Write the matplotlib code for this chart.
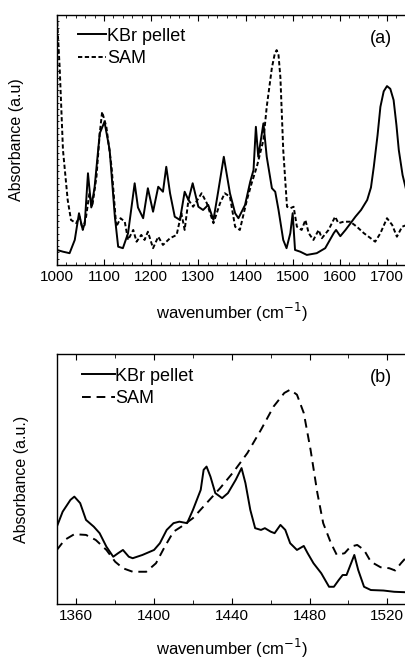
import matplotlib.pyplot as plt
import numpy as np
from matplotlib.ticker import MultipleLocator, NullFormatter

plt.rcParams["font.family"] = ["Liberation Sans", "DejaVu Sans"]

# panel (a): full range spectra, absorbance in arbitrary units (0-100)
kbr_a_x = [1000, 1013, 1027, 1038, 1047, 1054, 1059, 1066, 1073, 1080, 1091, 1101,
           1112, 1123, 1130, 1140, 1151, 1165, 1172, 1183, 1193, 1204, 1215, 1225,
           1232, 1240, 1250, 1261, 1271, 1279, 1288, 1300, 1310, 1321, 1332, 1342,
           1354, 1367, 1378, 1385, 1399, 1410, 1417, 1422, 1427, 1438, 1445, 1456,
           1463, 1470, 1480, 1487, 1495, 1500, 1505, 1516, 1530, 1551, 1569, 1587,
           1592, 1601, 1612, 1622, 1633, 1645, 1658, 1666, 1672, 1680, 1686, 1693,
           1700, 1707, 1714, 1720, 1725, 1733, 1742]
kbr_a_y = [6, 5.3, 4.7, 10, 20.7, 14.7, 16, 36.7, 23, 31, 52.7, 57.3,
           46, 19.3, 7.3, 6.7, 12.7, 32.7, 23, 18.7, 30.7, 21.3, 31.3, 29.3,
           39.3, 28.7, 19.3, 18, 29.3, 26, 32.7, 23.3, 22, 24, 18, 29.3,
           43.3, 28.7, 20.7, 18.7, 24, 33.3, 38, 55.3, 43.3, 56.7, 43.3, 30.7,
           29.3, 22, 10, 6.7, 12.7, 20.7, 6, 5.3, 4, 4.7, 6.7, 12.7,
           14, 11.5, 14, 16.5, 19.3, 22, 26, 31, 39.3, 52, 63.3, 69.5,
           71.6, 70.5, 66, 56, 46, 36, 29]

sam_a_x = [1000, 1006, 1013, 1023, 1030, 1041, 1048, 1055, 1062, 1069, 1075, 1084,
           1091, 1096, 1105, 1116, 1126, 1135, 1144, 1151, 1162, 1169, 1179, 1186,
           1193, 1204, 1215, 1225, 1240, 1254, 1264, 1271, 1279, 1289, 1307, 1318,
           1332, 1346, 1356, 1367, 1378, 1388, 1403, 1413, 1424, 1431, 1438, 1445,
           1456, 1462, 1466, 1470, 1474, 1480, 1488, 1495, 1502, 1509, 1519, 1527,
           1534, 1544, 1555, 1562, 1576, 1590, 1597, 1608, 1622, 1636, 1651, 1661,
           1675, 1686, 1700, 1711, 1721, 1732, 1742]
sam_a_y = [100, 79, 46, 26, 18, 16.7, 19.3, 14, 19.3, 28.7, 23.3, 35.3,
           52.7, 61.3, 55.3, 39.3, 15.3, 18.7, 17.3, 10, 14, 9.3, 12, 10,
           13.3, 6.7, 11.3, 8, 10.7, 12, 20.7, 14, 26, 23.3, 28.7, 24.7,
           16.7, 24.7, 28.7, 27.3, 15.3, 14, 26, 32.7, 39.3, 44.7, 50, 63.3,
           79, 84.5, 86, 84, 75, 46, 23.3, 22.7, 23.3, 15.3, 14, 18,
           12.7, 10, 14, 10.7, 14, 19.3, 16.7, 17.3, 17.3, 15.3, 12.7, 11.3,
           9.3, 12.7, 18.7, 16, 11.3, 15.3, 16]

# panel (b): zoom on 1350-1530 cm-1
kbr_b_x = [1350, 1353, 1357, 1359, 1362, 1365, 1369, 1372, 1375.5, 1379, 1381.5, 1384,
           1387, 1389, 1394, 1400, 1403, 1406.5, 1410, 1413, 1417, 1420, 1424, 1425.5,
           1427, 1429, 1431.5, 1435, 1438, 1442, 1445, 1447, 1449.5, 1452, 1455, 1457,
           1460, 1462, 1465, 1467.5, 1470, 1473.5, 1477, 1479, 1482, 1486, 1490, 1492.5,
           1495, 1497, 1499, 1503, 1505, 1508, 1511.5, 1518, 1523.5, 1530]
kbr_b_y = [31, 37, 41.7, 43, 40.4, 33.7, 31, 28.4, 23, 19, 20.4, 21.7,
           19, 18.4, 19.7, 21.7, 24.4, 29.7, 32.4, 33, 32.4, 37.7, 45.7, 53.7,
           55, 51, 44.4, 42.4, 44.4, 49.7, 54.4, 48.4, 37.7, 30.4, 29.7, 30.4,
           29, 28.4, 31.7, 29.7, 24.4, 21.7, 23.3, 20.4, 16.4, 12.4, 7, 7,
           9.7, 11.7, 11.7, 19.7, 13.7, 7, 5.7, 5.5, 5, 4.8]

sam_b_x = [1350, 1354, 1359, 1365, 1370, 1375.5, 1380, 1384, 1389, 1396, 1401, 1405.5,
           1410, 1414, 1420, 1427, 1434, 1441, 1448, 1455, 1461.5, 1467, 1470, 1473.5,
           1477, 1480.5, 1484, 1487, 1491, 1494, 1498, 1501, 1504.5, 1508, 1511.5, 1516.5,
           1521, 1524, 1527, 1530]
sam_b_y = [21.7, 25.7, 28, 27.7, 25.7, 21.7, 17, 14.4, 13, 13, 16.4, 23,
           29, 31, 34.4, 40.4, 46.4, 53, 60.4, 69.7, 79, 84.4, 85.7, 83.7,
           76.4, 61.7, 44.4, 32.4, 24.4, 19.7, 20.4, 23, 23.7, 21.7, 17, 14.8,
           14.4, 13.5, 16.4, 19]

fig = plt.figure(figsize=(4.06, 6.59), dpi=100)
ax1 = fig.add_axes([0.140, 0.598, 0.862, 0.379])
ax2 = fig.add_axes([0.140, 0.083, 0.862, 0.380])

ax1.plot(kbr_a_x, kbr_a_y, color='black', lw=1.4, label='KBr pellet')
ax1.plot(sam_a_x, sam_a_y, color='black', lw=1.4, dashes=(2.2, 1.3), label='SAM')
ax1.set_xlim(1000, 1742)
ax1.set_ylim(0, 100)
ax1.xaxis.set_major_locator(MultipleLocator(100))
ax1.xaxis.set_minor_locator(MultipleLocator(20))
ax1.yaxis.set_minor_locator(MultipleLocator(2.5))
ax1.set_yticks([])
ax1.yaxis.set_minor_formatter(NullFormatter())
ax1.tick_params(which='both', direction='in', top=True, left=True, labelsize=11)
ax1.tick_params(which='major', length=4)
ax1.tick_params(which='minor', length=2)
ax1.tick_params(axis='y', which='minor', length=1.5)
ax1.set_xlabel('wavenumber (cm$^{-1}$)', fontsize=12, labelpad=12)
ax1.set_ylabel('Absorbance (a.u)', fontsize=11.5, labelpad=20)
ax1.legend(loc='upper left', frameon=False, fontsize=13, handlelength=1.55,
           handletextpad=0.05, labelspacing=0.3, borderaxespad=0, borderpad=0,
           bbox_to_anchor=(0.06, 0.95))
ax1.text(0.925, 0.908, '(a)', transform=ax1.transAxes, ha='center', va='center',
         fontsize=13)

ax2.plot(kbr_b_x, kbr_b_y, color='black', lw=1.4, label='KBr pellet')
ax2.plot(sam_b_x, sam_b_y, color='black', lw=1.4, dashes=(4.5, 3), label='SAM')
ax2.set_xlim(1350, 1530)
ax2.set_ylim(0, 100)
ax2.xaxis.set_major_locator(MultipleLocator(40))
ax2.xaxis.set_minor_locator(MultipleLocator(20))
ax2.set_yticks([])
ax2.tick_params(which='both', direction='in', top=True, labelsize=11)
ax2.tick_params(which='major', length=4)
ax2.tick_params(which='minor', length=3)
ax2.set_xlabel('wavenumber (cm$^{-1}$)', fontsize=12, labelpad=10)
ax2.set_ylabel('Absorbance (a.u.)', fontsize=11.5, labelpad=20)
ax2.legend(loc='upper left', frameon=False, fontsize=13, handlelength=1.8,
           handletextpad=0.05, labelspacing=0.3, borderaxespad=0, borderpad=0,
           bbox_to_anchor=(0.072, 0.945))
ax2.text(0.925, 0.904, '(b)', transform=ax2.transAxes, ha='center', va='center',
         fontsize=13)

for ax in (ax1, ax2):
    for s in ax.spines.values():
        s.set_linewidth(1.0)

fig.savefig('out.png', dpi=100)
